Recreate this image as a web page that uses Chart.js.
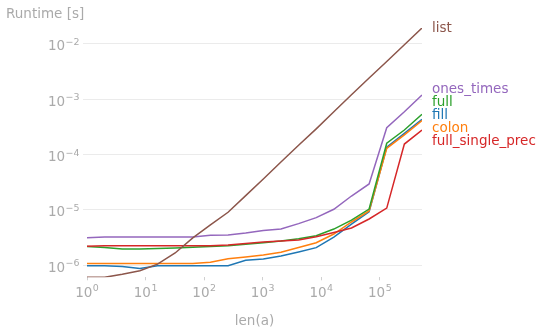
<!DOCTYPE html>
<html><head><meta charset="utf-8">
<style>html,body{margin:0;padding:0;background:#fff;overflow:hidden}</style>
<script src="https://cdn.jsdelivr.net/npm/chart.js@4"></script>
</head><body>
<canvas id="c" width="540" height="336" style="width:540px;height:336px;display:block"></canvas>
<script>
// ---- data ----
const lengths = [1, 2, 4, 8, 16, 32, 64, 128, 256, 512, 1024, 2048, 4096, 8192, 16384, 32768, 65536, 131072, 262144, 524288];
const seriesNames = ['fill', 'colon', 'full', 'full_single_prec', 'ones_times', 'list'];
const fill = [9.7e-7, 9.7e-7, 9.4e-7, 8.7e-7, 9.7e-7, 9.7e-7, 9.7e-7, 9.7e-7, 9.7e-7, 1.22e-6, 1.28e-6, 1.45e-6, 1.72e-6, 2.06e-6, 3.2e-6, 5.5e-6, 9.2e-6, 1.35e-4, 2.4e-4, 4.3e-4];
const colon = [1.07e-6, 1.07e-6, 1.07e-6, 1.07e-6, 1.07e-6, 1.07e-6, 1.07e-6, 1.12e-6, 1.3e-6, 1.4e-6, 1.52e-6, 1.7e-6, 2.07e-6, 2.53e-6, 3.64e-6, 6.0e-6, 9.5e-6, 1.29e-4, 2.25e-4, 4.1e-4];
const full = [2.16e-6, 2.07e-6, 1.95e-6, 1.95e-6, 1.99e-6, 2.04e-6, 2.1e-6, 2.17e-6, 2.23e-6, 2.37e-6, 2.52e-6, 2.72e-6, 3.0e-6, 3.39e-6, 4.47e-6, 6.5e-6, 1.03e-5, 1.59e-4, 2.76e-4, 5.3e-4];
const fullSinglePrec = [2.18e-6, 2.23e-6, 2.23e-6, 2.23e-6, 2.23e-6, 2.23e-6, 2.23e-6, 2.23e-6, 2.3e-6, 2.45e-6, 2.6e-6, 2.72e-6, 2.83e-6, 3.25e-6, 3.87e-6, 4.67e-6, 6.8e-6, 1.07e-5, 1.54e-4, 2.76e-4];
const onesTimes = [3.12e-6, 3.2e-6, 3.2e-6, 3.2e-6, 3.2e-6, 3.2e-6, 3.2e-6, 3.45e-6, 3.5e-6, 3.8e-6, 4.2e-6, 4.47e-6, 5.6e-6, 7.2e-6, 1.02e-5, 1.77e-5, 2.92e-5, 3.04e-4, 5.9e-4, 1.19e-3];
const list = [6.0e-7, 6.0e-7, 6.8e-7, 7.9e-7, 1.04e-6, 1.65e-6, 3.1e-6, 5.3e-6, 9.0e-6, 1.8e-5, 3.6e-5, 7.3e-5, 1.46e-4, 2.9e-4, 5.9e-4, 1.2e-3, 2.4e-3, 4.8e-3, 9.6e-3, 1.93e-2];
const xTickValues = [1, 10, 100, 1000, 10000, 100000];
const yTickValues = [1e-6, 1e-5, 1e-4, 1e-3, 1e-2];
const yAxisTitle = 'Runtime [s]';
const xAxisTitle = 'len(a)';

// ---- styling ----
const seriesValues = [fill, colon, full, fullSinglePrec, onesTimes, list];
const seriesColors = ['#1f77b4', '#ff7f0e', '#2ca02c', '#d62728', '#9467bd', '#8c564b'];
const FONT = 'DejaVu Sans';
const TEXT = '#aaaaaa';
const MAIN_SIZE = 13.5;
const SUP_SIZE = 9.45;

function expText(v) {
  return String(Math.round(Math.log10(v))).replace('-', '\u2212');
}

const allVals = seriesValues.flat();
const datasets = seriesNames.map((name, i) => ({
  label: name,
  data: lengths.map((n, j) => ({x: n, y: seriesValues[i][j]})),
  borderColor: seriesColors[i],
  backgroundColor: seriesColors[i],
  borderWidth: 1.5,
  pointRadius: 0,
  tension: 0,
  fill: false,
  order: seriesNames.length - i
}));

function spread(targets, gap) {
  const idx = targets.map((t, i) => i).sort((a, b) => targets[a] - targets[b]);
  let clusters = idx.map(i => ({members: [i], center: targets[i]}));
  let changed = true;
  while (changed) {
    changed = false;
    for (let k = 0; k < clusters.length - 1; k++) {
      const a = clusters[k], b = clusters[k + 1];
      const aEnd = a.center + (a.members.length - 1) * gap / 2;
      const bStart = b.center - (b.members.length - 1) * gap / 2;
      if (bStart - aEnd < gap) {
        const m = a.members.concat(b.members);
        const c = m.reduce((s, i) => s + targets[i], 0) / m.length;
        clusters.splice(k, 2, {members: m, center: c});
        changed = true;
        break;
      }
    }
  }
  const pos = new Array(targets.length);
  clusters.forEach(cl => {
    const start = cl.center - (cl.members.length - 1) * gap / 2;
    cl.members.forEach((i, j) => { pos[i] = start + j * gap; });
  });
  return pos;
}

function drawPow(ctx, v, x, baseline, align) {
  const mainFont = MAIN_SIZE + 'px "' + FONT + '"';
  const supFont = SUP_SIZE + 'px "' + FONT + '"';
  const e = expText(v);
  ctx.font = mainFont;
  const w1 = ctx.measureText('10').width;
  ctx.font = supFont;
  const w2 = ctx.measureText(e).width;
  const total = w1 + w2 + 0.5;
  let start = align === 'right' ? x - total : x - total / 2;
  ctx.textAlign = 'left';
  ctx.textBaseline = 'alphabetic';
  ctx.font = mainFont;
  ctx.fillText('10', start, baseline);
  ctx.font = supFont;
  ctx.fillText(e, start + w1 + 0.5, baseline - 5.5);
}

const textPlugin = {
  id: 'texts',
  afterDatasetsDraw(chart) {
    const ctx = chart.ctx;
    const ca = chart.chartArea;
    const ys = chart.scales.y;
    const xs = chart.scales.x;
    ctx.save();
    ctx.fillStyle = TEXT;
    // tick labels
    yTickValues.forEach(v => drawPow(ctx, v, ca.left - 7.5, ys.getPixelForValue(v) + 6.7, 'right'));
    xTickValues.forEach(v => drawPow(ctx, v, xs.getPixelForValue(v), 296.7, 'center'));
    // axis titles
    ctx.font = MAIN_SIZE + 'px "' + FONT + '"';
    ctx.textAlign = 'left';
    ctx.textBaseline = 'alphabetic';
    ctx.fillText(yAxisTitle, 6, 17.5);
    ctx.textAlign = 'center';
    ctx.fillText(xAxisTitle, (ca.left + ca.right) / 2, 325);
    // line labels
    const targets = seriesValues.map(v => ys.getPixelForValue(v[v.length - 1]));
    const pos = spread(targets, 13);
    ctx.textAlign = 'left';
    ctx.textBaseline = 'middle';
    seriesNames.forEach((name, i) => {
      ctx.fillStyle = seriesColors[i];
      ctx.fillText(name, ca.right + 10, pos[i]);
    });
    ctx.restore();
  }
};

new Chart(document.getElementById('c'), {
  type: 'line',
  data: {datasets},
  plugins: [textPlugin],
  options: {
    responsive: false,
    animation: false,
    devicePixelRatio: 1,
    layout: {padding: {left: 0, right: 118, top: 28, bottom: 0}},
    plugins: {legend: {display: false}, tooltip: {enabled: false}, title: {display: false}},
    scales: {
      x: {
        type: 'logarithmic',
        min: lengths[0],
        max: lengths[lengths.length - 1],
        afterBuildTicks: s => { s.ticks = xTickValues.map(v => ({value: v, major: true})); },
        afterFit: s => { s.height = 58.7; },
        grid: {drawOnChartArea: false, drawTicks: true, tickLength: 3, tickColor: '#d0d0d0', lineWidth: 1},
        border: {display: false},
        ticks: {display: false, autoSkip: false}
      },
      y: {
        type: 'logarithmic',
        min: Math.min(...allVals),
        max: Math.max(...allVals),
        afterBuildTicks: s => { s.ticks = yTickValues.map(v => ({value: v, major: true})); },
        afterFit: s => { s.width = 87; },
        grid: {color: '#ebebeb', lineWidth: 1, drawTicks: true, tickLength: 4, tickColor: '#ebebeb'},
        border: {display: false},
        ticks: {display: false, autoSkip: false}
      }
    }
  }
});
</script>
</body></html>
